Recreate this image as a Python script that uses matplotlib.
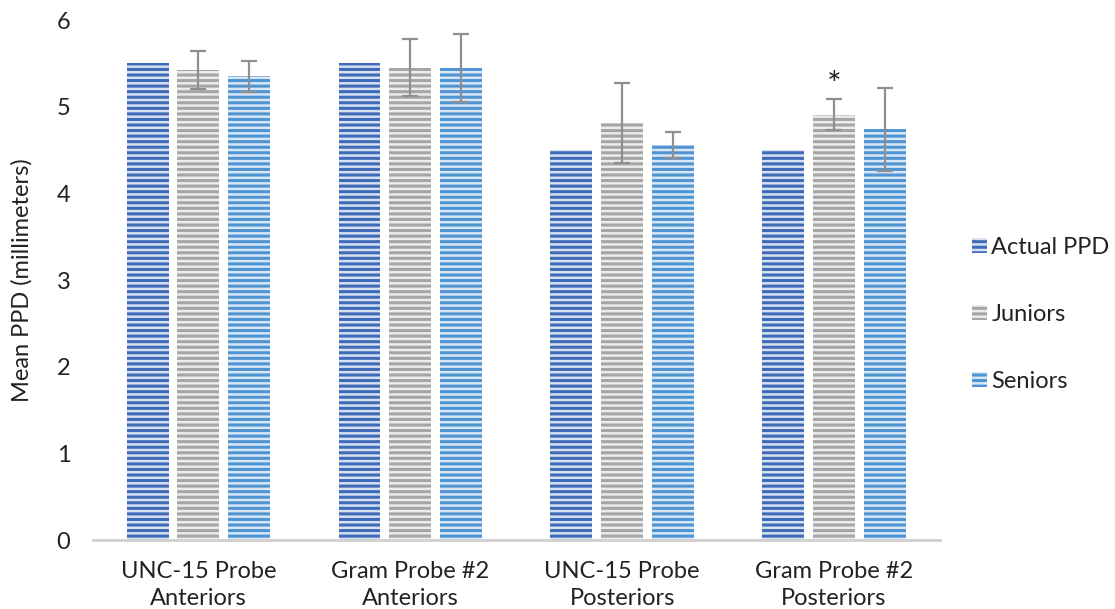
import numpy as np
import matplotlib.pyplot as plt
from matplotlib.patches import Patch

plt.rcParams['font.family'] = ['Lato', 'DejaVu Sans']
plt.rcParams['hatch.linewidth'] = 2.2

# data
groups = ["UNC-15 Probe\nAnteriors", "Gram Probe #2\nAnteriors",
          "UNC-15 Probe\nPosteriors", "Gram Probe #2\nPosteriors"]
series = ["Actual PPD", "Juniors", "Seniors"]
actual = [5.5, 5.5, 4.5, 4.5]
juniors = [5.42, 5.45, 4.81, 4.91]
seniors = [5.35, 5.45, 4.56, 4.74]
juniors_err = [0.22, 0.33, 0.46, 0.18]
seniors_err = [0.18, 0.39, 0.15, 0.48]

face_cols = ["#d6e0f0", "#ececec", "#d8e7f6"]
stripe_cols = ["#3d6bb8", "#a6a6a6", "#4f95d3"]

fig = plt.figure(figsize=(11.15, 6.09), dpi=100)
ax = fig.add_axes([0.083, 0.1133, 0.76, 0.8537])

x = np.arange(len(groups))
width = 0.198
step = 0.24

vals = [actual, juniors, seniors]
errs = [None, juniors_err, seniors_err]
for i in range(3):
    pos = x + (i - 1) * step
    ax.bar(pos, vals[i], width, color=face_cols[i], edgecolor=stripe_cols[i],
           linewidth=0, hatch='---', label=series[i])
    if errs[i] is not None:
        ax.errorbar(pos, vals[i], yerr=errs[i], fmt='none', ecolor='#8f8f8f',
                    elinewidth=1.6, capsize=6, capthick=1.6)

# significance marker
ax.text(x[3], juniors[3] + juniors_err[3] + 0.15, "*", ha='center', va='center',
        fontsize=25, color='#222222')

ax.set_xlim(-0.5, 3.5)
ax.set_ylim(0, 6)
ax.set_yticks(range(7))
ax.set_xticks(x)
ax.set_xticklabels(groups, fontsize=17, color='#222222', linespacing=1.35)
ax.tick_params(axis='y', length=0, pad=16, labelsize=17, labelcolor='#222222')
ax.tick_params(axis='x', length=0, pad=15)
for s in ['top', 'right', 'left']:
    ax.spines[s].set_visible(False)
ax.spines['bottom'].set_color('#d0d0d0')
ax.spines['bottom'].set_linewidth(2)

ax.set_ylabel("Mean PPD (millimeters)", fontsize=17, color='#222222', labelpad=17)

handles = [Patch(facecolor=face_cols[i], edgecolor=stripe_cols[i], linewidth=0,
                 hatch='---', label=series[i]) for i in range(3)]
fig.legend(handles=handles, loc='center left', bbox_to_anchor=(0.853, 0.484),
           frameon=False, fontsize=17, handlelength=0.6, handleheight=0.6,
           handletextpad=0.2, labelspacing=1.95, labelcolor='#222222')

fig.savefig("out.png", dpi=100)
